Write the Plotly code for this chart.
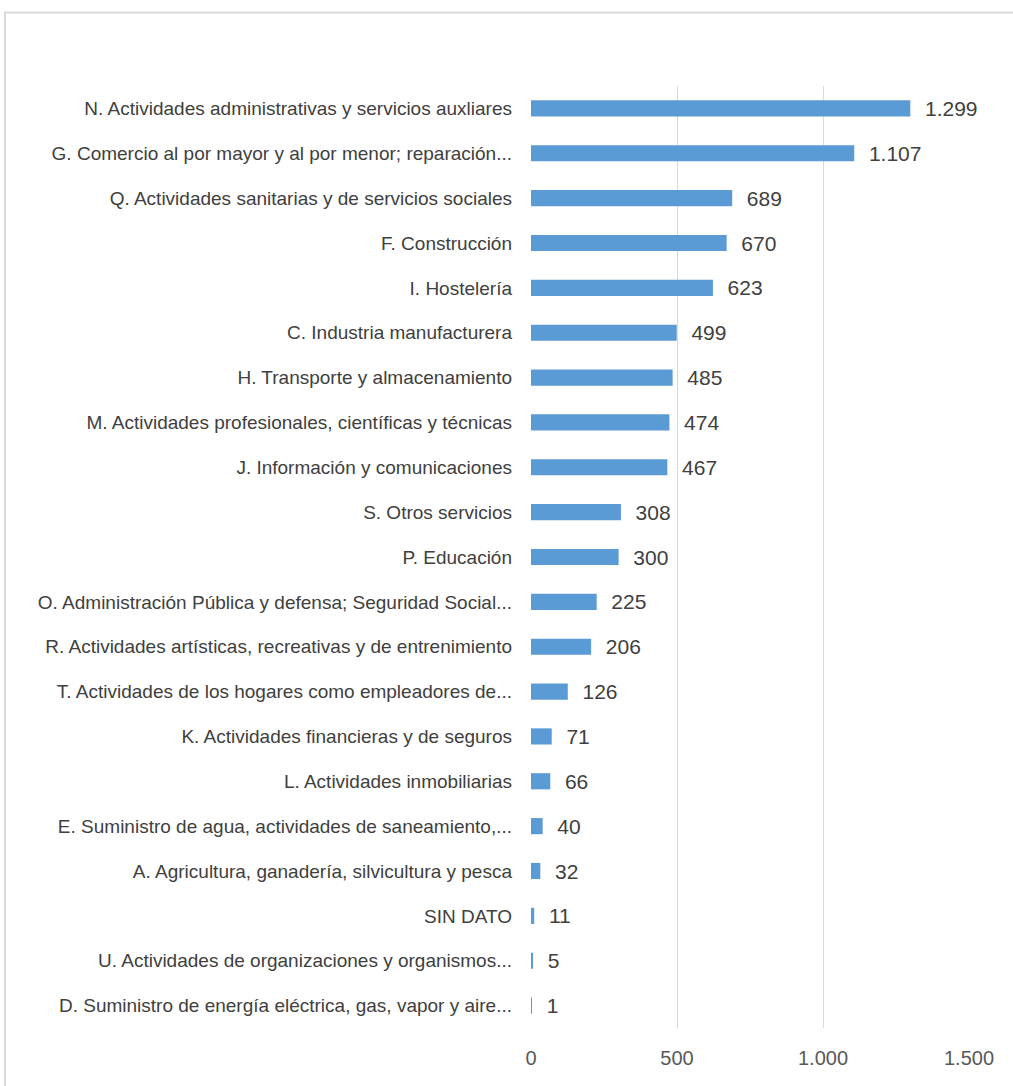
import plotly.graph_objects as go

categories = [
    "N. Actividades administrativas y servicios auxliares",
    "G. Comercio al por mayor y al por menor; reparación...",
    "Q. Actividades sanitarias y de servicios sociales",
    "F. Construcción",
    "I. Hostelería",
    "C. Industria manufacturera",
    "H. Transporte y almacenamiento",
    "M. Actividades profesionales, científicas y técnicas",
    "J. Información y comunicaciones",
    "S. Otros servicios",
    "P. Educación",
    "O. Administración Pública y defensa; Seguridad Social...",
    "R. Actividades artísticas, recreativas y de entrenimiento",
    "T. Actividades de los hogares como empleadores de...",
    "K. Actividades financieras y de seguros",
    "L. Actividades inmobiliarias",
    "E. Suministro de agua, actividades de saneamiento,...",
    "A. Agricultura, ganadería, silvicultura y pesca",
    "SIN DATO",
    "U. Actividades de organizaciones y organismos...",
    "D. Suministro de energía eléctrica, gas, vapor y aire...",
]
values = [1299, 1107, 689, 670, 623, 499, 485, 474, 467, 308, 300, 225, 206, 126, 71, 66, 40, 32, 11, 5, 1]
tick_vals = [0, 500, 1000, 1500]
tick_text = ["0", "500", "1.000", "1.500"]

FONT = "Liberation Sans, Arial, sans-serif"

fig = go.Figure(go.Bar(
    x=values,
    y=categories,
    orientation="h",
    marker=dict(color="#5B9BD5", line=dict(width=0)),
    text=["\u00a0\u00a0" + f"{v:,}".replace(",", ".") for v in values],
    textposition="outside",
    constraintext="none",
    cliponaxis=False,
    textfont=dict(family=FONT, size=21, color="#404040"),
))

W, H = 1013, 1086
L, R = 531, 969
T, B = 85.6, 1027.6
pw, ph = R - L, B - T

fig.update_layout(
    width=W, height=H,
    margin=dict(l=L, r=W - R, t=T, b=H - B, pad=0),
    paper_bgcolor="white", plot_bgcolor="white",
    bargap=0.64,
    showlegend=False,
    xaxis=dict(range=[0, 1500], tickvals=tick_vals, ticktext=tick_text,
               showgrid=True, gridcolor="#d9d9d9", gridwidth=1,
               zeroline=False, showline=False,
               tickfont=dict(family=FONT, size=20, color="#595959"),
               ticklabelstandoff=16, fixedrange=True),
    yaxis=dict(categoryorder="array", categoryarray=categories, autorange="reversed",
               showgrid=False, zeroline=False, showline=False,
               tickfont=dict(family=FONT, size=19, color="#404040"),
               ticklabelstandoff=18),
    shapes=[dict(type="rect", xref="paper", yref="paper",
                 x0=(5 - L) / pw, x1=(1030 - L) / pw,
                 y0=-(1100 - B) / ph, y1=1 + (T - 12) / ph,
                 line=dict(color="#d9d9d9", width=2), fillcolor="rgba(0,0,0,0)", layer="below")],
)

fig.write_html("out.html", config={"displayModeBar": False},
               post_script="document.body.style.margin='0';document.body.style.overflow='hidden';")
